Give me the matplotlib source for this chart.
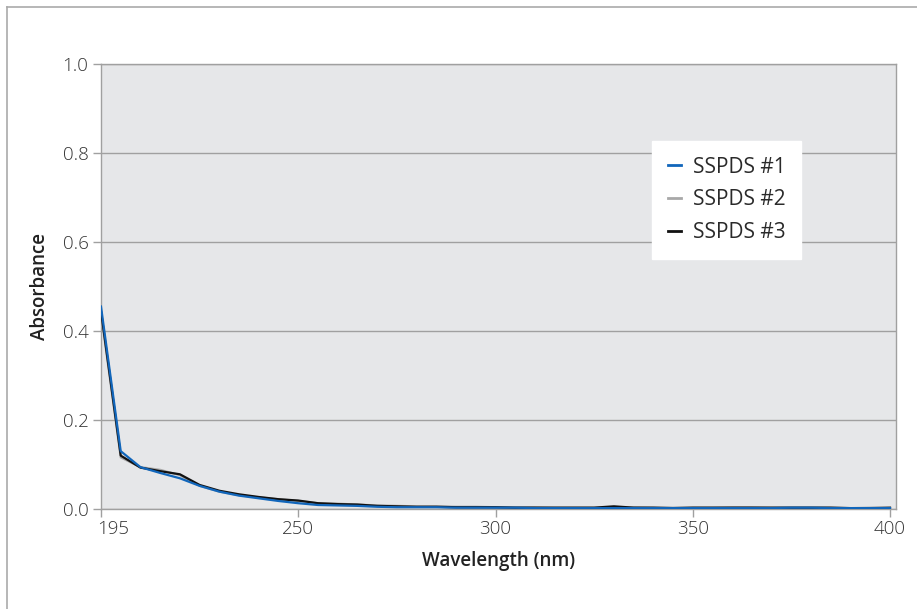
import matplotlib
matplotlib.use("Agg")
import matplotlib.pyplot as plt
from matplotlib.lines import Line2D
from matplotlib.transforms import ScaledTranslation

wavelengths = [195] + list(range(205, 401, 5))  # 41 categories
s1 = [0.455, 0.130, 0.094, 0.081, 0.069, 0.052, 0.039, 0.030, 0.024, 0.018,
      0.013, 0.009, 0.008, 0.007, 0.005, 0.004, 0.004, 0.004, 0.003, 0.003,
      0.003, 0.003, 0.002, 0.002, 0.002, 0.002, 0.002, 0.002, 0.002, 0.002,
      0.002, 0.002, 0.002, 0.002, 0.002, 0.003, 0.003, 0.002, 0.002, 0.002, 0.002]
s2 = [0.440, 0.116, 0.094, 0.088, 0.076, 0.052, 0.039, 0.031, 0.026, 0.022,
      0.018, 0.013, 0.012, 0.010, 0.008, 0.007, 0.006, 0.006, 0.005, 0.005,
      0.004, 0.004, 0.004, 0.003, 0.003, 0.003, 0.003, 0.004, 0.003, 0.003,
      0.003, 0.003, 0.004, 0.004, 0.003, 0.003, 0.003, 0.003, 0.002, 0.003, 0.002]
s3 = [0.445, 0.120, 0.093, 0.085, 0.078, 0.054, 0.041, 0.033, 0.027, 0.022,
      0.019, 0.013, 0.011, 0.010, 0.007, 0.006, 0.005, 0.005, 0.004, 0.004,
      0.004, 0.003, 0.003, 0.003, 0.003, 0.003, 0.006, 0.003, 0.003, 0.002,
      0.003, 0.003, 0.003, 0.003, 0.003, 0.003, 0.003, 0.003, 0.002, 0.002, 0.003]
series_names = ["SSPDS #1", "SSPDS #2", "SSPDS #3"]
series_colors = ["#1166BB", "#A8A8A8", "#111111"]
tick_labels = [195, 250, 300, 350, 400]
y_ticks = [0.0, 0.2, 0.4, 0.6, 0.8, 1.0]

plt.rcParams['font.family'] = ['Open Sans', 'DejaVu Sans']

fig = plt.figure(figsize=(9.17, 6.09), dpi=100)
ax = fig.add_axes([101/917, 1-509/609, (896-101)/917, (509-64)/609])
ax.set_facecolor("#E6E7E9")

x = list(range(len(wavelengths)))
for data, name, col in [(s2, series_names[1], series_colors[1]),
                        (s3, series_names[2], series_colors[2]),
                        (s1, series_names[0], series_colors[0])]:
    ax.plot(x, data, color=col, lw=1.6, zorder=3)

ax.set_xlim(0, 40 + 6/19.73)
ax.set_ylim(0, 1.0)
ax.set_yticks(y_ticks)
ax.set_yticklabels([f"{v:.1f}" for v in y_ticks])
ax.set_xticks([wavelengths.index(t) for t in tick_labels])
ax.set_xticklabels([str(t) for t in tick_labels])
ax.grid(axis='y', color="#A0A0A0", lw=1)
ax.set_axisbelow(True)
for side in ['left', 'bottom', 'right', 'top']:
    ax.spines[side].set_color("#A0A0A0")
    ax.spines[side].set_linewidth(1)
ax.tick_params(axis='both', color="#A0A0A0", labelsize=13.5, length=6, width=1)
ax.tick_params(axis='y', pad=3)
ax.tick_params(axis='x', pad=2)
for lbl in ax.get_xticklabels() + ax.get_yticklabels():
    lbl.set_fontweight('light')
    lbl.set_color("#333333")
first = ax.get_xticklabels()[0]
first.set_horizontalalignment('left')
first.set_transform(first.get_transform() + ScaledTranslation(-4/100, 0, fig.dpi_scale_trans))

ax.set_xlabel("Wavelength (nm)", fontsize=13.5, fontweight='semibold', color="#222222", labelpad=9)
ax.set_ylabel("Absorbance", fontsize=13.5, fontweight='semibold', color="#222222", labelpad=9)

handles = [Line2D([], [], color=c, lw=2) for c in series_colors]
leg = ax.legend(handles, series_names, loc='upper left',
                bbox_to_anchor=((652-101)/795, 1-(141-64)/445),
                frameon=True, fancybox=False, framealpha=1, edgecolor='white',
                facecolor='white', fontsize=15, handlelength=0.65,
                handletextpad=0.55, labelspacing=0.56, borderpad=0.75,
                borderaxespad=0)
for t in leg.get_texts():
    t.set_color("#2A2A2A")

fig.add_artist(Line2D([7/917, 7/917], [0, 1-7/609], color="#AAAAAA", lw=1.2, transform=fig.transFigure))
fig.add_artist(Line2D([7/917, 1], [1-7/609, 1-7/609], color="#AAAAAA", lw=1.2, transform=fig.transFigure))

fig.savefig("out.png", dpi=100)
